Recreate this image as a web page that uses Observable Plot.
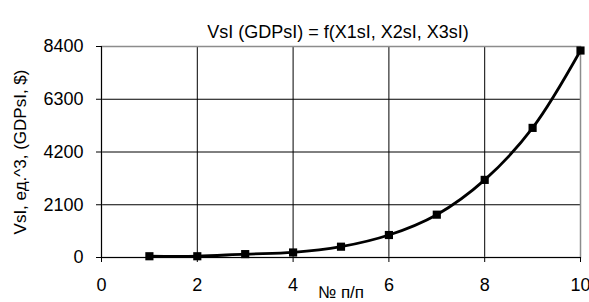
<!DOCTYPE html>
<html>
<head>
<meta charset="utf-8">
<script src="https://cdn.jsdelivr.net/npm/d3@7"></script>
<script src="https://cdn.jsdelivr.net/npm/@observablehq/plot@0.6"></script>
<style>
  html, body { margin: 0; padding: 0; background: white; }
</style>
</head>
<body>
<div id="chart"></div>
<script>
const titleText = "VsI (GDPsI) = f(X1sI, X2sI, X3sI)";
const xLabel = "№ п/п";
const yLabel = "VsI, ед.^3, (GDPsI, $)";
const xValues = [1, 2, 3, 4, 5, 6, 7, 8, 9, 10];
const vValues = [50, 50, 135, 200, 430, 895, 1705, 3090, 5160, 8240];
const xTicks = [0, 2, 4, 6, 8, 10];
const yTicks = [0, 2100, 4200, 6300, 8400];

const data = xValues.map((x, i) => ({x, v: vValues[i]}));
const font = "'Liberation Sans', Arial, sans-serif";

const chart = Plot.plot({
  width: 589,
  height: 302,
  marginLeft: 101,
  marginRight: 9,
  marginTop: 46,
  marginBottom: 45,
  style: {fontFamily: font, fontSize: "18px", color: "black", background: "white", overflow: "visible"},
  x: {domain: [0, 10]},
  y: {domain: [0, 8400]},
  marks: [
    Plot.gridX(xTicks, {stroke: "black", strokeOpacity: 1}),
    Plot.gridY(yTicks, {stroke: "black", strokeOpacity: 1}),
    Plot.frame({stroke: "#8c8c8c", strokeWidth: 1.5}),
    Plot.ruleX([0], {stroke: "black"}),
    Plot.ruleY([0], {stroke: "black"}),
    Plot.axisX({ticks: xTicks, tickSize: 5, tickPadding: 16, label: null, fontSize: 18}),
    Plot.axisY({ticks: yTicks, tickSize: 5, tickPadding: 13, label: null, fontSize: 18, tickFormat: d => String(d)}),
    Plot.line(data, {x: "x", y: "v", curve: "catmull-rom", stroke: "black", strokeWidth: 2.8}),
    Plot.dot(data, {x: "x", y: "v", symbol: "square", r: 4.6, fill: "black", stroke: "none"}),
    Plot.text([titleText], {frameAnchor: "top", dy: -21, dx: -3, fontSize: 18}),
    Plot.text([xLabel], {frameAnchor: "bottom", dy: 40, fontSize: 17}),
    Plot.text([yLabel], {frameAnchor: "left", dx: -81, rotate: -90, textAnchor: "middle", fontSize: 17})
  ]
});
document.getElementById("chart").appendChild(chart);
</script>
</body>
</html>
